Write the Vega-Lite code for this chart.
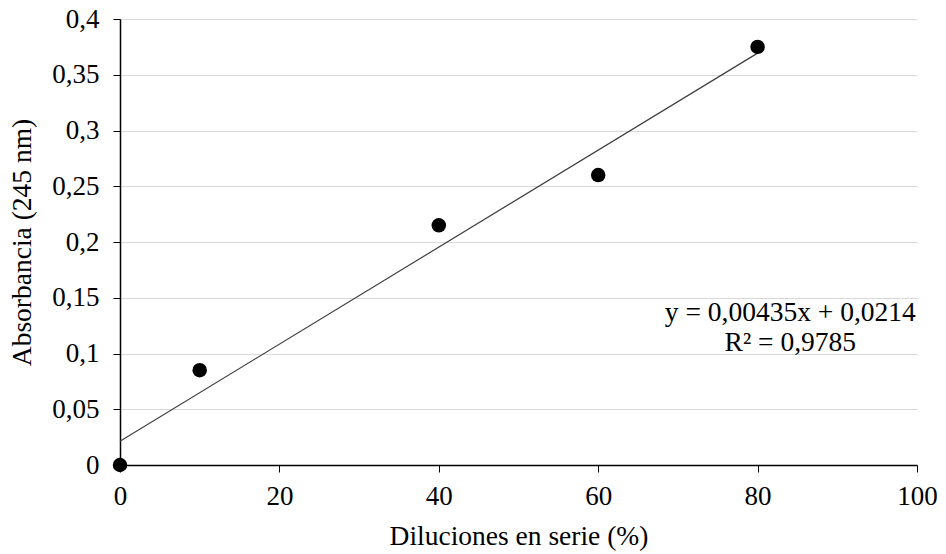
{
  "$schema": "https://vega.github.io/schema/vega-lite/v6.json",
  "width": 797,
  "height": 446,
  "autosize": "none",
  "padding": {"left": 120, "top": 19, "right": 29, "bottom": 89},
  "background": "white",
  "config": {
    "locale": {"number": {"decimal": ",", "thousands": ".", "grouping": [3], "currency": ["", ""]}},
    "view": {"stroke": null},
    "font": "Liberation Serif"
  },
  "datasets": {
    "puntos": [
      {"dilucion": 0, "absorbancia": 0},
      {"dilucion": 10, "absorbancia": 0.085},
      {"dilucion": 40, "absorbancia": 0.215},
      {"dilucion": 60, "absorbancia": 0.26},
      {"dilucion": 80, "absorbancia": 0.375}
    ],
    "tendencia": [
      {"dilucion": 0, "absorbancia": 0.0214},
      {"dilucion": 80, "absorbancia": 0.3694}
    ],
    "ecuacion": [
      {"dilucion": 84.1, "absorbancia": 0.1363, "texto": "y = 0,00435x + 0,0214"},
      {"dilucion": 84.1, "absorbancia": 0.1094, "texto": "R² = 0,9785"}
    ]
  },
  "layer": [
    {
      "data": {"name": "tendencia"},
      "mark": {"type": "line", "color": "#404040", "strokeWidth": 1.2},
      "encoding": {
        "x": {
          "field": "dilucion", "type": "quantitative",
          "scale": {"domain": [0, 100], "nice": false},
          "axis": {
            "title": "Diluciones en serie (%)",
            "values": [0, 20, 40, 60, 80, 100],
            "grid": false,
            "labelFlush": false,
            "labelFont": "Liberation Serif",
            "labelFontSize": 27,
            "labelColor": "#000000",
            "labelPadding": 11,
            "titleFont": "Liberation Serif",
            "titleFontSize": 27.5,
            "titleFontWeight": "normal",
            "titleColor": "#000000",
            "titlePadding": 13,
            "domainColor": "#000000",
            "domainWidth": 1.5,
            "tickColor": "#000000",
            "tickSize": 7
          }
        },
        "y": {
          "field": "absorbancia", "type": "quantitative",
          "scale": {"domain": [0, 0.4], "nice": false},
          "axis": {
            "title": "Absorbancia (245 nm)",
            "values": [0, 0.05, 0.1, 0.15, 0.2, 0.25, 0.3, 0.35, 0.4],
            "format": ".2~f",
            "grid": true,
            "gridColor": "#d9d9d9",
            "gridWidth": 1,
            "labelFlush": false,
            "labelFont": "Liberation Serif",
            "labelFontSize": 27,
            "labelColor": "#000000",
            "labelPadding": 14,
            "titleFont": "Liberation Serif",
            "titleFontSize": 27.5,
            "titleFontWeight": "normal",
            "titleColor": "#000000",
            "titlePadding": 15,
            "domainColor": "#000000",
            "domainWidth": 1.5,
            "tickColor": "#000000",
            "tickSize": 7
          }
        }
      }
    },
    {
      "data": {"name": "puntos"},
      "mark": {"type": "point", "filled": true, "color": "#000000", "size": 210, "opacity": 1},
      "encoding": {
        "x": {"field": "dilucion", "type": "quantitative"},
        "y": {"field": "absorbancia", "type": "quantitative"}
      }
    },
    {
      "data": {"name": "ecuacion"},
      "mark": {"type": "text", "font": "Liberation Serif", "fontSize": 27.5, "color": "#000000", "align": "center", "baseline": "middle"},
      "encoding": {
        "x": {"field": "dilucion", "type": "quantitative"},
        "y": {"field": "absorbancia", "type": "quantitative"},
        "text": {"field": "texto"}
      }
    }
  ]
}
